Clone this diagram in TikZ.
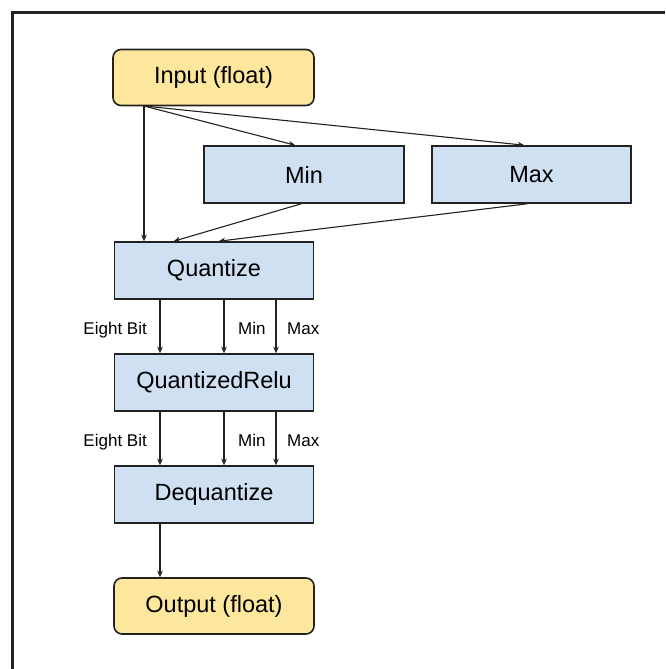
\documentclass[tikz,border=0pt]{standalone}
\usepackage{fontspec}
\setmainfont{Liberation Sans}
\usetikzlibrary{arrows.meta,calc}
\definecolor{opblue}{HTML}{CFE0F3}
\definecolor{ioyellow}{HTML}{FDE79C}
\definecolor{edge}{HTML}{222222}
\tikzset{
  opbox/.style={draw=edge, line width=1.6pt, fill=opblue, minimum width=199pt,
    minimum height=56pt, inner sep=0pt, font=\fontsize{23.5}{26}\selectfont},
  iobox/.style={opbox, fill=ioyellow, rounded corners=8pt},
  flow/.style={draw=edge, line width=1.1pt, -{Stealth[length=6.5pt,width=5.5pt]}},
  tag/.style={inner sep=0pt, font=\fontsize{17}{19}\selectfont},
}
\begin{document}
\begin{tikzpicture}[x=1pt, y=-1pt]
  \useasboundingbox (0,0) rectangle (665,669);
  % frame
  \draw[line width=2.4pt, edge] (12.5,669) -- (12.5,12.5) -- (665,12.5);

  % nodes
  \node[iobox, minimum width=201pt] (in) at (213.5,77.5) {Input (float)};
  \node[opbox, minimum width=200pt, minimum height=57pt] (mn) at (304,174.5) {Min};
  \node[opbox, minimum height=57pt] (mx) at (531.5,174.5) {Max};
  \node[opbox, minimum height=57pt] (q) at (214,270.5) {Quantize};
  \node[opbox, minimum height=57pt] (qr) at (214,382.5) {QuantizedRelu};
  \node[opbox, minimum height=57pt] (dq) at (214,494.5) {Dequantize};
  \node[iobox, minimum width=200pt] (out) at (214,606) {Output (float)};

  % column positions of the vertical streams
  \coordinate (cin) at (144,0);
  \coordinate (c8) at (160,0);
  \coordinate (cmin) at (224,0);
  \coordinate (cmax) at (276,0);

  % input fan-out
  \draw[flow] (in.south -| cin) -- (q.north -| cin);
  \draw[flow] ($(in.south west)+(33,0)$) -- ($(mn.north west)+(92,0)$);
  \draw[flow] ($(in.south west)+(35,0)$) -- ($(mx.north west)+(93,0)$);
  \draw[flow] ($(mn.south west)+(98,0)$) -- ($(q.north west)+(60,0)$);
  \draw[flow] ($(mx.south west)+(96,0)$) -- ($(q.north west)+(105,0)$);

  % quantized streams
  \foreach \c in {c8,cmin,cmax} {
    \draw[flow] (q.south -| \c) -- (qr.north -| \c);
    \draw[flow] (qr.south -| \c) -- (dq.north -| \c);
  }
  \draw[flow] (dq.south -| c8) -- (out.north -| c8);

  % stream labels, on a common baseline per row
  \node[tag, anchor=base east] (e1) at (147,334) {Eight Bit};
  \node[tag, anchor=base west] (m1) at (238,334) {Min};
  \node[tag, anchor=base west] (x1) at (287,334) {Max};
  \node[tag, anchor=base east] (e2) at (147,446) {Eight Bit};
  \node[tag, anchor=base west] (m2) at (238,446) {Min};
  \node[tag, anchor=base west] (x2) at (287,446) {Max};
\end{tikzpicture}
\end{document}
